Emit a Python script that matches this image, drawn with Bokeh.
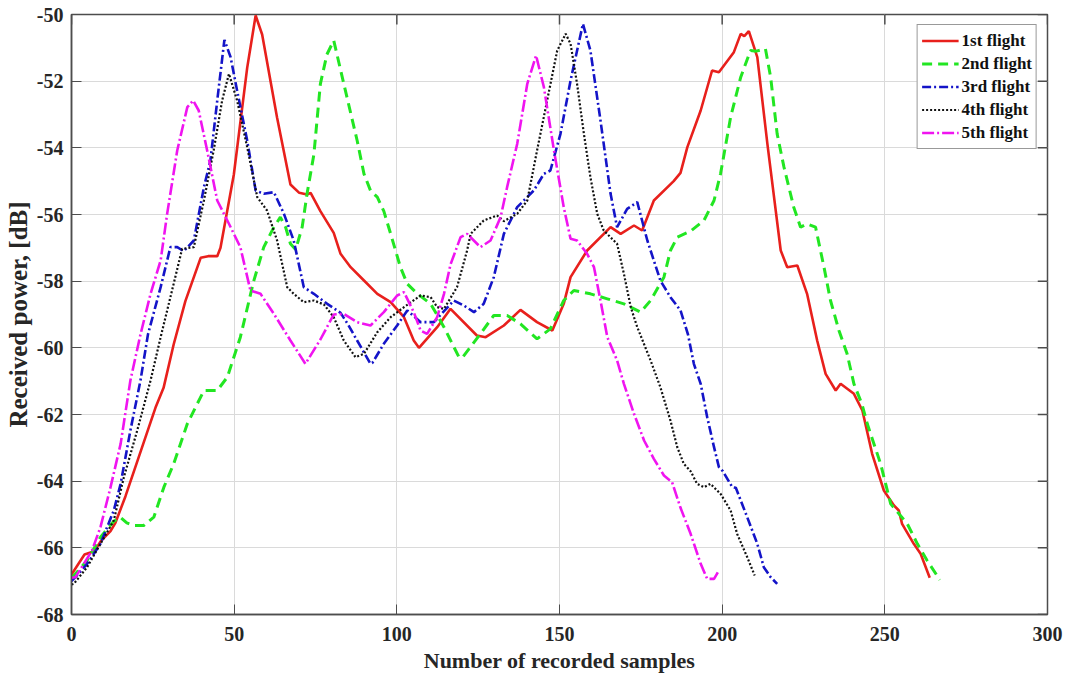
from bokeh.plotting import figure
from bokeh.models import Range1d, Legend, LegendItem, FixedTicker
from bokeh.embed import file_html
from bokeh.resources import INLINE

# ---- data ----
x1 = [0, 2, 4, 7, 9, 12, 13.5, 16.6, 25.8, 28.3, 31.4, 35, 39.7, 42, 44.8, 45.8, 49.9, 54, 56.6, 58.6,
      63.2, 67.3, 70, 72.4, 73.5, 76.5, 80.6, 82.7, 85.8, 89.9, 94, 98.1, 102.2, 105.2, 106.8, 112.4,
      116.5, 124.6, 127.3, 132.9, 138, 143.1, 147.8, 151.3, 153.4, 158.5, 165.7, 168.8, 172.9, 175.4,
      179, 185.1, 187.2, 189.3, 193.4, 196.9, 199, 203.6, 205.7, 206.8, 208.2, 210.8, 213.9, 218, 220,
      223.1, 226.1, 229.2, 231.8, 234.9, 236.4, 240.5, 243.1, 246.1, 249.7, 252.8, 254.3, 255.3, 258.9,
      261, 263.8]
y1 = [-66.8, -66.5, -66.2, -66.1, -65.8, -65.5, -65.25, -64.45, -61.8, -61.2, -59.9, -58.6, -57.3,
      -57.25, -57.25, -57.0, -54.8, -51.6, -50.03, -50.6, -53.1, -55.1, -55.35, -55.4, -55.35, -55.9,
      -56.55, -57.18, -57.58, -57.98, -58.38, -58.63, -59.08, -59.78, -60.0, -59.38, -58.83, -59.63,
      -59.68, -59.33, -58.86, -59.23, -59.48, -58.68, -57.88, -57.08, -56.38, -56.58, -56.33, -56.48,
      -55.58, -55.0, -54.75, -53.98, -52.88, -51.68, -51.73, -51.13, -50.58, -50.65, -50.5, -51.28,
      -53.88, -57.08, -57.58, -57.53, -58.38, -59.78, -60.78, -61.28, -61.08, -61.38, -61.88, -63.18,
      -64.28, -64.73, -64.88, -65.28, -65.88, -66.18, -66.9]

x2 = [0, 2, 4.8, 8.9, 13, 15, 17, 19.1, 22.2, 25.3, 28.4, 31.4, 35.6, 40.7, 44.8, 47.9, 51.9, 56, 59.1,
      62.2, 64.2, 65.8, 67.3, 68.9, 70.9, 72.4, 74.5, 76.5, 78.5, 80.6, 83.7, 87.8, 89.9, 91.9, 94, 96,
      98.1, 101.1, 103.2, 106.3, 110.4, 114.5, 119.1, 120.1, 125.7, 129.8, 133.9, 138, 143.1, 147.2,
      151.3, 154.4, 159.5, 164.7, 169.8, 174.9, 178, 182.1, 184.1, 186.2, 190.3, 194.4, 197.5, 199.5,
      202.6, 205.7, 208.7, 210.5, 213.3, 214.9, 216.9, 219, 222, 224.1, 226.1, 228.7, 231.3, 233.3,
      235.9, 238.4, 240.5, 243, 244.6, 248.7, 251.8, 256.9, 260, 263, 266.9]
y2 = [-66.9, -66.7, -66.38, -65.68, -65.2, -65.08, -65.25, -65.33, -65.33, -65.08, -64.18, -63.48,
      -62.28, -61.28, -61.28, -60.88, -59.68, -58.0, -56.98, -56.38, -56.08, -56.38, -56.88, -57.05,
      -56.38, -55.38, -54.2, -52.08, -51.2, -50.78, -52.08, -53.78, -54.78, -55.28, -55.48, -55.9,
      -56.58, -57.58, -58.08, -58.38, -58.68, -59.38, -60.28, -60.3, -59.58, -59.03, -59.03, -59.28,
      -59.73, -59.43, -58.58, -58.28, -58.38, -58.53, -58.68, -58.93, -58.58, -57.88, -57.08, -56.68,
      -56.5, -56.18, -55.58, -54.78, -53.08, -51.88, -51.08, -51.1, -51.03, -51.88, -53.58, -54.58,
      -55.78, -56.38, -56.28, -56.38, -57.58, -58.58, -59.48, -60.18, -61.08, -61.7, -62.28, -63.48,
      -64.68, -65.28, -65.88, -66.38, -66.96]

x3 = [0, 1.2, 4.8, 8.9, 13, 15.1, 18.1, 21.2, 23.5, 27.4, 30.4, 32.5, 34.5, 37.6, 40.7, 42.7, 44.8, 47,
      48.9, 50.9, 54, 56.6, 59.1, 62.2, 65.3, 68.3, 71.4, 74.5, 78.6, 82.7, 85, 87.8, 91.9, 92.5, 96,
      100.1, 103.2, 107.3, 111.4, 117.5, 120.6, 123.7, 126.7, 129.8, 132.9, 137, 142.1, 145.2, 147.2,
      150.3, 153.4, 157.2, 159.5, 162.6, 165.7, 167.7, 170.8, 173.9, 177, 181, 184.1, 187.2, 189.5,
      191.3, 193.4, 195.4, 197.5, 199, 200.2, 203.1, 204.2, 207.7, 210.8, 212.8, 214.9, 216.9]
y3 = [-67.0, -66.88, -66.48, -65.88, -64.88, -64.08, -62.48, -60.98, -59.6, -58.18, -56.98, -56.98,
      -57.1, -56.78, -55.18, -54.38, -52.58, -50.76, -51.28, -52.28, -53.78, -55.28, -55.38, -55.33,
      -55.98, -56.78, -58.18, -58.38, -58.68, -58.95, -59.3, -59.78, -60.48, -60.45, -59.88, -59.33,
      -58.88, -59.23, -59.23, -58.58, -58.73, -58.93, -58.68, -57.88, -56.58, -55.78, -55.28, -54.78,
      -54.68, -53.58, -51.98, -50.28, -51.08, -53.18, -55.38, -56.38, -55.83, -55.63, -56.78, -57.98,
      -58.48, -58.88, -59.6, -60.48, -61.08, -62.08, -62.98, -63.58, -63.7, -64.18, -64.2, -65.08,
      -65.88, -66.58, -66.88, -67.08]

x4 = [0, 0.7, 4.8, 8.9, 13, 16.1, 20.2, 24.3, 27.4, 31.4, 34, 37.6, 40.7, 43.7, 46.3, 48.4, 50.9, 54,
      57.1, 60.1, 63.2, 66.3, 68.3, 71.4, 74.5, 77.6, 80.6, 83.7, 87.3, 89.9, 94, 98.1, 102.2, 107.3,
      110.4, 112.4, 114.5, 118.5, 121.6, 122.7, 126.7, 130.8, 132.9, 137, 140.1, 143.1, 146.2, 149.3,
      151.9, 153.4, 155.4, 157.5, 159.5, 161.6, 163.6, 167.7, 169.8, 171.9, 173.9, 178, 181, 184.1,
      186.2, 188.2, 190.3, 192.3, 194.4, 196.4, 199.5, 202.6, 204.6, 207.7, 210]
y4 = [-67.1, -67.08, -66.58, -65.88, -65.18, -63.88, -62.48, -60.98, -59.68, -58.08, -57.03, -56.98,
      -55.58, -54.08, -52.58, -51.78, -52.58, -53.98, -55.48, -55.88, -56.78, -58.18, -58.38, -58.63,
      -58.58, -58.7, -59.08, -59.78, -60.28, -60.18, -59.53, -59.08, -58.78, -58.43, -58.48, -58.78,
      -58.83, -58.18, -57.08, -56.58, -56.18, -56.03, -56.2, -55.98, -55.58, -54.08, -52.58, -51.08,
      -50.58, -50.88, -52.08, -53.58, -54.88, -55.98, -56.48, -56.88, -57.78, -58.78, -59.38, -60.38,
      -61.18, -62.18, -62.98, -63.48, -63.7, -64.08, -64.18, -64.08, -64.38, -64.88, -65.58, -66.28,
      -66.83]

x5 = [0, 1.2, 3.8, 6.3, 8.9, 12, 15.1, 18.1, 21.2, 24.3, 27.4, 29.4, 32.5, 35.6, 37.4, 39.1, 41.7,
      44.8, 47.9, 51.9, 55, 58.1, 62.2, 67.3, 71.9, 76.5, 80.6, 83.7, 87.8, 91.9, 96, 100.1, 102.2,
      105.2, 107.3, 109.3, 112.4, 114.5, 116.5, 119.6, 121.6, 125.7, 128.8, 131.9, 133.9, 137, 140.1,
      142.8, 145.2, 148.3, 151.3, 153.4, 155.4, 158.5, 160.6, 162.6, 164.7, 167.7, 169.8, 172.9, 176,
      179, 182.1, 184.6, 187.2, 190.3, 193.4, 195.4, 197.5, 199]
y5 = [-66.9, -66.88, -66.48, -66.08, -65.38, -64.18, -62.88, -60.98, -59.6, -58.38, -57.38, -55.98,
      -54.08, -52.78, -52.58, -52.88, -54.08, -55.58, -56.18, -56.98, -58.28, -58.38, -58.98, -59.78,
      -60.48, -59.75, -59.0, -58.98, -59.23, -59.33, -58.93, -58.43, -58.33, -58.93, -59.48, -59.58,
      -59.08, -58.38, -57.5, -56.68, -56.58, -56.98, -56.78, -56.08, -55.18, -53.88, -52.08, -51.23,
      -52.18, -54.08, -55.78, -56.73, -56.78, -57.18, -57.58, -58.58, -59.68, -60.38, -61.08, -61.98,
      -62.78, -63.33, -63.83, -64.03, -64.8, -65.58, -66.48, -66.93, -66.93, -66.68]

labels = ["1st flight", "2nd flight", "3rd flight", "4th flight", "5th flight"]
x_ticks = [0, 50, 100, 150, 200, 250, 300]
y_ticks = [-68, -66, -64, -62, -60, -58, -56, -54, -52, -50]

FONT = "Liberation Serif"
X_MIN, X_MAX, Y_MIN, Y_MAX = 0, 300, -68, -50

p = figure(width=1067, height=678, output_backend="svg", toolbar_location=None,
           x_range=Range1d(X_MIN, X_MAX), y_range=Range1d(Y_MIN, Y_MAX),
           min_border_left=71, min_border_right=20, min_border_top=14, min_border_bottom=64)
p.background_fill_color = "white"
p.border_fill_color = "white"
p.outline_line_color = "#4d4d4d"
p.outline_line_width = 1.5

for ax in (p.xaxis[0], p.yaxis[0]):
    ax.major_label_text_font = FONT
    ax.major_label_text_font_style = "bold"
    ax.major_label_text_font_size = "20px"
    ax.major_label_text_color = "#262626"
    ax.axis_label_text_font = FONT
    ax.axis_label_text_font_style = "bold"
    ax.axis_label_text_color = "#262626"
    ax.axis_line_color = "#4d4d4d"
    ax.axis_line_width = 1.5
    ax.major_tick_in = 10
    ax.major_tick_out = 0
    ax.major_tick_line_color = "#4d4d4d"
    ax.minor_tick_line_color = None

p.xaxis[0].ticker = FixedTicker(ticks=x_ticks)
p.yaxis[0].ticker = FixedTicker(ticks=y_ticks)
p.xaxis[0].major_label_overrides = {t: str(t) for t in x_ticks}
p.yaxis[0].major_label_overrides = {t: "-" + str(abs(t)) for t in y_ticks}
p.xaxis[0].axis_label = "Number of recorded samples"
p.xaxis[0].axis_label_text_font_size = "22px"
p.xaxis[0].major_label_standoff = 12
p.xaxis[0].axis_label_standoff = 4
p.yaxis[0].axis_label = "Received power, [dB]"
p.yaxis[0].axis_label_text_font_size = "25px"
p.yaxis[0].major_label_standoff = 8
p.yaxis[0].axis_label_standoff = 2

# inside tick marks on the top and right edges of the box
p.segment(x0=x_ticks, y0=[Y_MAX] * len(x_ticks), x1=x_ticks, y1=[Y_MAX - 0.3] * len(x_ticks),
          line_color="#4d4d4d", line_width=1.5)
p.segment(x0=[X_MAX] * len(y_ticks), y0=y_ticks, x1=[X_MAX - 3.0] * len(y_ticks), y1=y_ticks,
          line_color="#4d4d4d", line_width=1.5)

p.xgrid.ticker = FixedTicker(ticks=x_ticks)
p.ygrid.ticker = FixedTicker(ticks=y_ticks)
p.grid.grid_line_color = "#dadada"
p.grid.grid_line_width = 1

r1 = p.line(x1, y1, line_color="#e8201c", line_width=2.6)
r2 = p.line(x2, y2, line_color="#22e622", line_width=3, line_dash="10 6")
r3 = p.line(x3, y3, line_color="#1414c8", line_width=2.6, line_dash="9 3 2 3")
r4 = p.line(x4, y4, line_color="#111111", line_width=2.2, line_dash="2 2")
r5 = p.line(x5, y5, line_color="#f014f0", line_width=2.6, line_dash="12 3 2 3")

items = [LegendItem(label=l, renderers=[r]) for l, r in zip(labels, [r1, r2, r3, r4, r5])]
legend = Legend(items=items, location="top_right", margin=10, padding=4, spacing=0,
                label_text_font=FONT, label_text_font_style="bold", label_text_font_size="17px",
                label_text_color="#111111", glyph_width=37, glyph_height=23, label_height=23,
                label_standoff=3, border_line_color="#333333", border_line_width=1,
                background_fill_color="white", background_fill_alpha=1)
p.add_layout(legend, "center")

open("out.html", "w").write(file_html(p, INLINE))
